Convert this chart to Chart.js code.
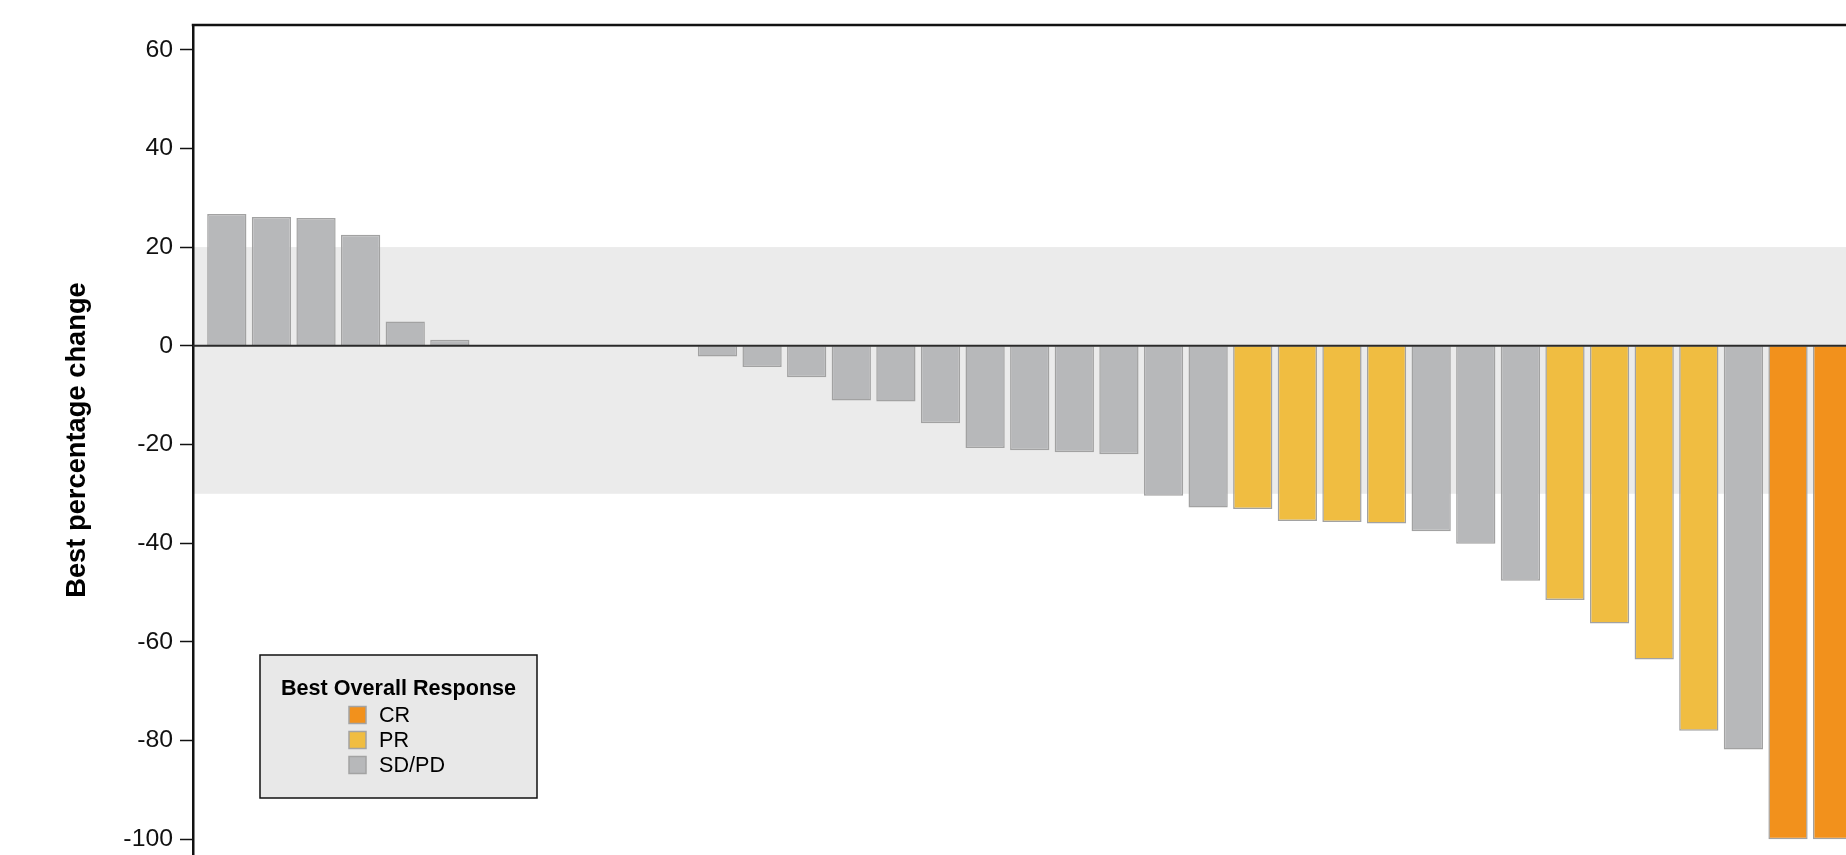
<!DOCTYPE html>
<html>
<head>
<meta charset="utf-8">
<title>Best percentage change</title>
<script src="https://cdn.jsdelivr.net/npm/chart.js@4.4.1/dist/chart.umd.min.js"></script>
<style>
  html, body { margin: 0; padding: 0; background: #fff; overflow: hidden; }
  #wrap { width: 1846px; height: 855px; position: relative; }
</style>
</head>
<body>
<div id="wrap"><canvas id="chart"></canvas></div>
<script>
// best percentage change per patient, sorted
const bestChange = [26.7, 26.1, 25.9, 22.5, 4.9, 1.2, 0, 0, 0, 0, 0,
  -2.2, -4.3, -6.4, -11.1, -11.3, -15.7, -20.7, -21.2, -21.6, -22.0,
  -30.4, -32.8, -33.1, -35.5, -35.7, -36.0, -37.6, -40.1, -47.6,
  -51.5, -56.3, -63.6, -78.0, -81.8, -100, -100];
const bestResponse = ['SD/PD', 'SD/PD', 'SD/PD', 'SD/PD', 'SD/PD', 'SD/PD', 'SD/PD', 'SD/PD', 'SD/PD', 'SD/PD', 'SD/PD',
  'SD/PD', 'SD/PD', 'SD/PD', 'SD/PD', 'SD/PD', 'SD/PD', 'SD/PD', 'SD/PD', 'SD/PD', 'SD/PD',
  'SD/PD', 'SD/PD', 'PR', 'PR', 'PR', 'PR', 'SD/PD', 'SD/PD', 'SD/PD',
  'PR', 'PR', 'PR', 'PR', 'SD/PD', 'CR', 'CR'];
const responseTypes = ['CR', 'PR', 'SD/PD'];
const yTicks = [60, 40, 20, 0, -20, -40, -60, -80, -100];
const bandHigh = 20;   // progression threshold
const bandLow = -30;   // response threshold

const colors = { 'CR': '#f2911c', 'PR': '#f0bd41', 'SD/PD': '#b7b8ba' };
const font = '"Liberation Sans", Arial, Helvetica, sans-serif';
Chart.defaults.font.family = font;

// grey band between the thresholds, under everything
const bandPlugin = {
  id: 'band',
  beforeDraw(chart) {
    const { ctx, chartArea: a, scales: { y } } = chart;
    const t = y.getPixelForValue(bandHigh);
    const b = y.getPixelForValue(bandLow);
    ctx.save();
    ctx.fillStyle = '#ebebeb';
    ctx.fillRect(a.left, t, a.right - a.left, b - t);
    ctx.restore();
  }
};

// zero line over the bars + top frame line
const linesPlugin = {
  id: 'lines',
  afterDatasetsDraw(chart) {
    const { ctx, chartArea: a, scales: { y } } = chart;
    const z = y.getPixelForValue(0);
    ctx.save();
    ctx.strokeStyle = '#2a2a2a';
    ctx.lineWidth = 2.2;
    ctx.beginPath(); ctx.moveTo(a.left, z); ctx.lineTo(a.right, z); ctx.stroke();
    ctx.strokeStyle = '#111';
    ctx.lineWidth = 2.5;
    ctx.beginPath(); ctx.moveTo(a.left - 1.25, a.top); ctx.lineTo(a.right, a.top); ctx.stroke();
    ctx.restore();
  }
};

const legendPlugin = {
  id: 'responseLegend',
  afterDraw(chart, args, opts) {
    const ctx = chart.ctx;
    const x = 260, y = 655, w = 277, h = 143;
    ctx.save();
    ctx.fillStyle = '#e8e8e8';
    ctx.fillRect(x, y, w, h);
    ctx.strokeStyle = '#111';
    ctx.lineWidth = 1.5;
    ctx.strokeRect(x, y, w, h);
    ctx.fillStyle = '#000';
    ctx.font = 'bold 21.6px ' + font;
    ctx.textAlign = 'center';
    ctx.textBaseline = 'alphabetic';
    ctx.fillText(opts.title, x + w / 2, 695);
    ctx.font = '21.6px ' + font;
    responseTypes.forEach((r, i) => {
      const cy = 715 + i * 25;
      ctx.fillStyle = colors[r];
      ctx.fillRect(349, cy - 8.5, 17, 17);
      ctx.strokeStyle = '#a3a3a3';
      ctx.lineWidth = 1.5;
      ctx.strokeRect(349, cy - 8.5, 17, 17);
      ctx.fillStyle = '#000';
      ctx.textAlign = 'left';
      ctx.textBaseline = 'middle';
      ctx.fillText(r, 379, cy + 1);
    });
    ctx.restore();
  }
};

new Chart(document.getElementById('chart'), {
  type: 'bar',
  data: {
    datasets: [{
      label: 'Best percentage change',
      data: bestChange.map((v, i) => ({ x: i, y: v })),
      backgroundColor: bestResponse.map(r => colors[r]),
      borderColor: '#a2a2a2',
      borderWidth: 1.5,
      categoryPercentage: 1,
      barPercentage: 0.88
    }]
  },
  options: {
    responsive: true,
    maintainAspectRatio: false,
    animation: false,
    devicePixelRatio: 1,
    layout: { autoPadding: false, padding: { top: 25, left: 0, right: 0, bottom: 0 } },
    plugins: {
      legend: { display: false },
      tooltip: { enabled: false },
      responseLegend: { title: 'Best Overall Response' }
    },
    scales: {
      x: { type: 'linear', min: -0.758, max: 36.3, offset: false, display: false },
      y: {
        min: -103.2,
        max: 65,
        afterBuildTicks: s => { s.ticks = yTicks.map(v => ({ value: v })); },
        afterFit: s => { s.width = 193; s.paddingTop = 0; s.paddingBottom = 0; },
        ticks: { color: '#111', font: { size: 24.8 }, padding: 7 },
        grid: { drawOnChartArea: false, tickLength: 13, tickColor: '#111', tickWidth: 1.5 },
        border: { color: '#111', width: 2.5 },
        title: {
          display: true,
          text: 'Best percentage change',
          color: '#000',
          font: { size: 27.3, weight: 'bold' },
          padding: { top: 61, bottom: 0 }
        }
      }
    }
  },
  plugins: [bandPlugin, linesPlugin, legendPlugin]
});
</script>
</body>
</html>
